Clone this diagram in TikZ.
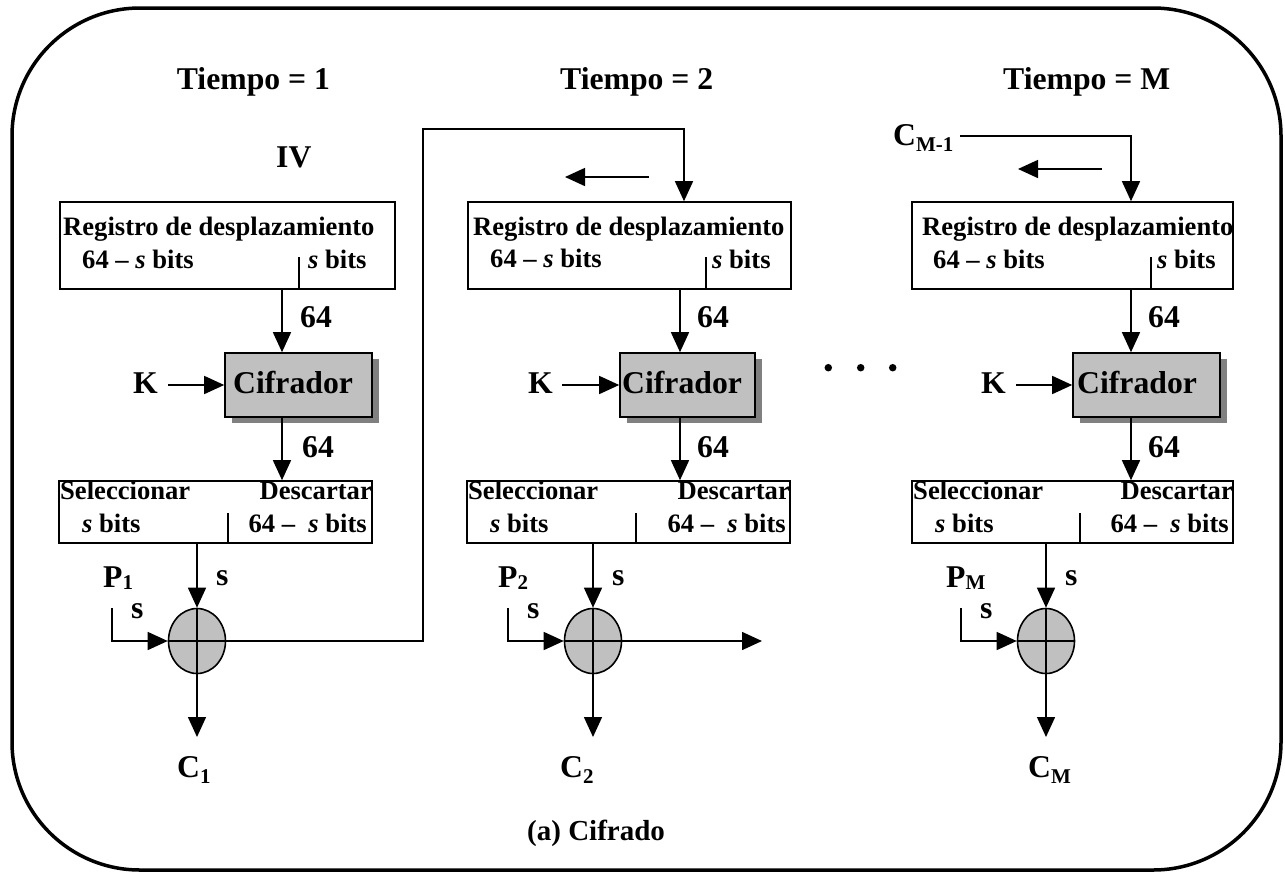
\documentclass[tikz,border=0pt]{standalone}
\usepackage{fontspec}
\setmainfont{Liberation Serif}
\usetikzlibrary{arrows.meta,shapes.geometric,shadows}
\definecolor{boxgray}{HTML}{C0C0C0}
\definecolor{shadowgray}{HTML}{808080}
\newcommand\fs[1]{\fontsize{#1}{#1}\selectfont}
\newcommand\lowsub[1]{\raisebox{-0.22em}{\fs{21}#1}}
\newcommand\psub[1]{\raisebox{-0.08em}{\fs{21}#1}}
\tikzset{
  frame/.style={draw, line width=3.5pt, rounded corners=128pt},
  regbox/.style={draw, line width=1.6pt, inner sep=0pt, minimum height=87pt},
  selbox/.style={draw, line width=1.6pt, inner sep=0pt, minimum height=62pt},
  cifbox/.style={draw, line width=1.6pt, fill=boxgray, inner sep=0pt, minimum height=64pt,
     drop shadow={shadow xshift=7pt, shadow yshift=-6pt, fill=shadowgray, opacity=1}},
  xorc/.style={draw, line width=1.6pt, fill=boxgray, ellipse, inner sep=0pt, minimum width=57pt, minimum height=65pt},
  arr/.style={-{Triangle[length=20pt,width=18pt]}, line width=1.5pt},
  divl/.style={line width=1.4pt},
  t/.style={inner sep=0pt, font=\bfseries\fs{26.6}},
  tl/.style={t, anchor=base west},
  tr/.style={t, anchor=base east},
  big/.style={inner sep=0pt, anchor=base west, font=\bfseries\fs{31.7}},
  dot/.style={circle, fill, inner sep=0pt, minimum size=7.5pt},
}
\begin{document}
\begin{tikzpicture}[x=1pt,y=-1pt]
\useasboundingbox (0,0) rectangle (1285,873);
\draw[frame] (12,8) rectangle (1281,870);

% titles
\node[big] (t1) at (176.7,89) {Tiempo = 1};
\node[big] (t2) at (560,89) {Tiempo = 2};
\node[big] (t3) at (1003,89) {Tiempo = M};
\node[big] (iv) at (276,167) {IV};
\node[big] (cm1) at (893,145) {C\lowsub{M-1}};

% ---------- boxes ----------
\node[regbox, minimum width=335pt] (reg1) at (227.5,245.5) {};
\node[regbox, minimum width=323pt] (reg2) at (629.5,245.5) {};
\node[regbox, minimum width=321pt] (reg3) at (1072.5,245.5) {};

\node[cifbox, minimum width=147pt] (cif1) at (298.5,385) {};
\node[cifbox, minimum width=135pt] (cif2) at (687.5,385) {};
\node[cifbox, minimum width=147pt] (cif3) at (1146.5,385) {};

\node[selbox, minimum width=313pt] (sel1) at (215.5,512) {};
\node[selbox, minimum width=323pt] (sel2) at (628.5,512) {};
\node[selbox, minimum width=321pt] (sel3) at (1072.5,512) {};

\node[xorc] (x1) at (197,641) {};
\node[xorc] (x2) at (593,641) {};
\node[xorc] (x3) at (1046,641) {};
\foreach \i in {1,2,3}{
  \draw[divl] (x\i.north) -- (x\i.south);
  \draw[divl] (x\i.west) -- (x\i.east);
}

% register texts
\node[tl] (r1a) at (63,235) {Registro de desplazamiento};
\node[tl] (r1b) at (82,268) {64 – \textit{s} bits};
\node[tl] (r1c) at (308,268) {\textit{s} bits};
\node[tl] (r2a) at (473,235) {Registro de desplazamiento};
\node[tl] (r2b) at (490,267) {64 – \textit{s} bits};
\node[tl] (r2c) at (712,268) {\textit{s} bits};
\node[tl] (r3a) at (922,235) {Registro de desplazamiento};
\node[tl] (r3b) at (933,268) {64 – \textit{s} bits};
\node[tl] (r3c) at (1157,268) {\textit{s} bits};
\coordinate (rd1) at (299,257);
\coordinate (rd2) at (706,257);
\coordinate (rd3) at (1151,257);
\draw[divl] (rd1) -- (rd1 |- reg1.south);
\draw[divl] (rd2) -- (rd2 |- reg2.south);
\draw[divl] (rd3) -- (rd3 |- reg3.south);

% cifrador texts
\node[big] (c1t) at (233,393) {Cifrador};
\node[big] (c2t) at (622,393) {Cifrador};
\node[big] (c3t) at (1077,393) {Cifrador};

% selector texts
\node[tl] (s1a) at (60,499) {Seleccionar};
\node[tr] (s1b) at (372,499) {Descartar};
\node[tl] (s1c) at (82,532) {\textit{s} bits};
\node[tr] (s1d) at (367,532) {64 –\ \ \textit{s} bits};
\node[tl] (s2a) at (468,499) {Seleccionar};
\node[tr] (s2b) at (790,499) {Descartar};
\node[tl] (s2c) at (490,532) {\textit{s} bits};
\node[tr] (s2d) at (786,532) {64 –\ \ \textit{s} bits};
\node[tl] (s3a) at (913,499) {Seleccionar};
\node[tr] (s3b) at (1233,499) {Descartar};
\node[tl] (s3c) at (935,532) {\textit{s} bits};
\node[tr] (s3d) at (1229,532) {64 –\ \ \textit{s} bits};
\coordinate (sd1) at (228,513);
\coordinate (sd2) at (636,513);
\coordinate (sd3) at (1080,513);
\draw[divl] (sd1) -- (sd1 |- sel1.south);
\draw[divl] (sd2) -- (sd2 |- sel2.south);
\draw[divl] (sd3) -- (sd3 |- sel3.south);

% labels 64, K, P, s, C
\node[big] (n1a) at (300,327) {64};
\node[big] (n1b) at (302,457) {64};
\node[big] (n2a) at (697,327) {64};
\node[big] (n2b) at (697,457) {64};
\node[big] (n3a) at (1148,327) {64};
\node[big] (n3b) at (1148,457) {64};
\node[big] (k1) at (133,393) {K};
\node[big] (k2) at (528,393) {K};
\node[big] (k3) at (981,393) {K};
\node[big] (p1) at (103,587) {P\psub{1}};
\node[big] (p2) at (498,587) {P\psub{2}};
\node[big] (p3) at (946,587) {P\psub{M}};
\node[big] (sl1) at (131,618) {s};
\node[big] (sl2) at (527,618) {s};
\node[big] (sl3) at (980,618) {s};
\node[big] (sr1) at (216,585) {s};
\node[big] (sr2) at (612,585) {s};
\node[big] (sr3) at (1065,585) {s};
\node[big] (o1) at (177,777) {C\lowsub{1}};
\node[big] (o2) at (560,777) {C\lowsub{2}};
\node[big] (o3) at (1028,777) {C\lowsub{M}};
\node[inner sep=0pt, anchor=base west, font=\bfseries\fs{29}] (cap) at (527,840) {(a) Cifrado};

% dots
\node[dot] (d1) at (828.3,367.7) {};
\node[dot] (d2) at (860.7,367.7) {};
\node[dot] (d3) at (892.7,367.7) {};

% ---------- connectors ----------
\coordinate (v1) at (282,0);
\coordinate (v2) at (680,0);
\coordinate (v3) at (1131,0);
\draw[arr] (reg1.south -| v1) -- (cif1.north -| v1);
\draw[arr] (cif1.south -| v1) -- (sel1.north -| v1);
\draw[arr] (reg2.south -| v2) -- (cif2.north -| v2);
\draw[arr] (cif2.south -| v2) -- (sel2.north -| v2);
\draw[arr] (reg3.south -| v3) -- (cif3.north -| v3);
\draw[arr] (cif3.south -| v3) -- (sel3.north -| v3);

\draw[arr] (sel1.south -| x1.north) -- (x1.north);
\draw[arr] (sel2.south -| x2.north) -- (x2.north);
\draw[arr] (sel3.south -| x3.north) -- (x3.north);

\coordinate (k1e) at (168,385);
\coordinate (k2e) at (562,385);
\coordinate (k3e) at (1016,385);
\draw[arr] (k1e) -- (cif1.west);
\draw[arr] (k2e) -- (cif2.west);
\draw[arr] (k3e) -- (cif3.west);

\coordinate (pin1) at (112,608);
\coordinate (pin2) at (508,608);
\coordinate (pin3) at (961,608);
\draw[arr] (pin1) |- (x1.west);
\draw[arr] (pin2) |- (x2.west);
\draw[arr] (pin3) |- (x3.west);

\coordinate (out1) at (197,737);
\coordinate (out2) at (593,737);
\coordinate (out3) at (1046,737);
\draw[arr] (x1.south) -- (out1);
\draw[arr] (x2.south) -- (out2);
\draw[arr] (x3.south) -- (out3);

% feedback from XOR1 to register 2
\coordinate (fb1) at (423,641);
\coordinate (fb2) at (423,129);
\coordinate (fb3) at (684,129);
\draw[arr] (x1.east) -- (fb1) -- (fb2) -- (fb3) -- (fb3 |- reg2.north);
% XOR2 onward
\coordinate (x2out) at (762,641);
\draw[arr] (x2.east) -- (x2out);
% C_{M-1} into register 3
\coordinate (cmA) at (960,136);
\coordinate (cmB) at (1131,136);
\draw[arr] (cmA) -- (cmB) -- (cmB |- reg3.north);

% shift arrows
\coordinate (sh2a) at (649,177);
\coordinate (sh2b) at (565,177);
\coordinate (sh3a) at (1102,169);
\coordinate (sh3b) at (1018,169);
\draw[arr] (sh2a) -- (sh2b);
\draw[arr] (sh3a) -- (sh3b);
\end{tikzpicture}
\end{document}
